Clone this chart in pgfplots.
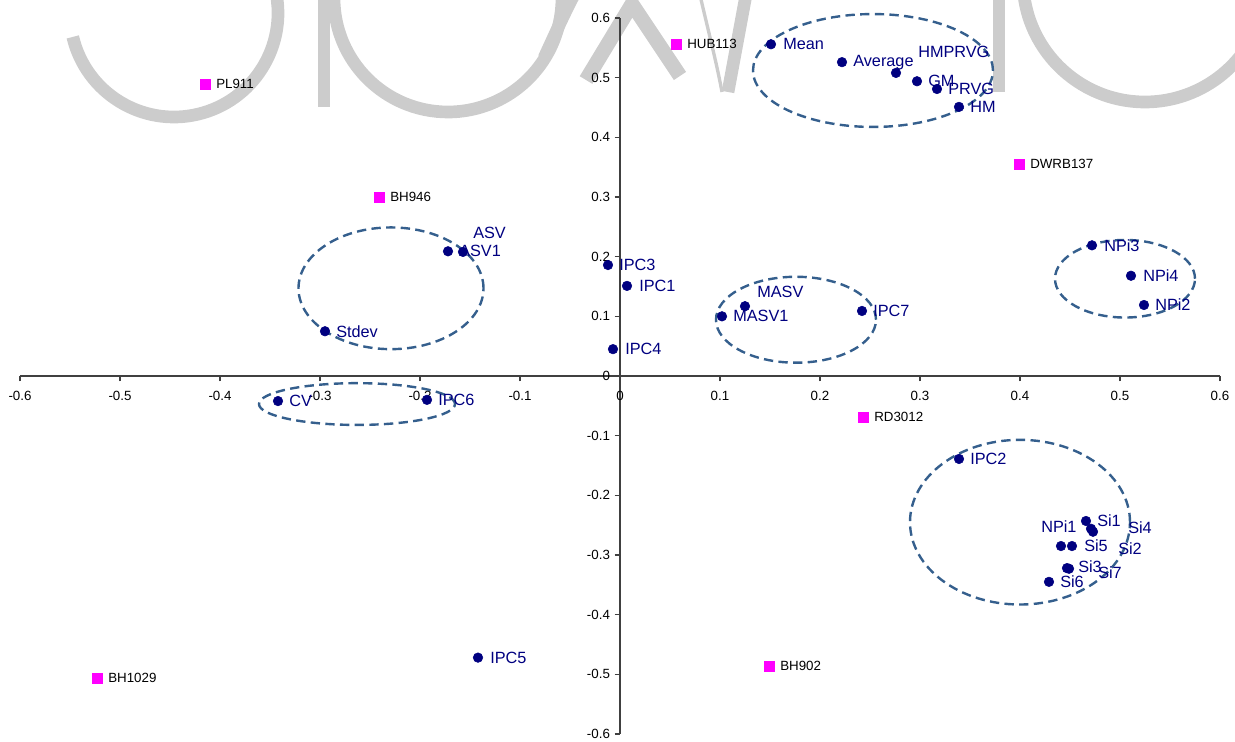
\documentclass[border=0pt]{standalone}
\usepackage{pgfplots}
\pgfplotsset{compat=1.18}
\usepackage{pgfplotstable}
\usepackage{fontspec}
\setmainfont{Liberation Sans}
\definecolor{navy}{HTML}{000080}
\definecolor{mag}{HTML}{FF00FF}
\definecolor{ellc}{HTML}{355F8D}
\definecolor{wm}{HTML}{CCCCCC}

\pgfplotstableread{
x y dx dy lab
0.151 0.556 12 0 Mean
0.222 0.526 11 0 Average
0.276 0.508 22 21 HMPRVG
0.297 0.494 11 0 GM
0.317 0.481 11 0 PRVG
0.339 0.451 11 0 HM
-0.172 0.209 11 0 ASV1
-0.157 0.208 10 19 ASV
-0.295 0.075 11 0 Stdev
-0.342 -0.042 11 0 CV
-0.193 -0.040 11 0 IPC6
-0.012 0.186 11 0 IPC3
0.007 0.151 12 0 IPC1
-0.007 0.045 12 0 IPC4
0.125 0.117 12 14 MASV
0.102 0.100 11 0 MASV1
0.242 0.109 11 0 IPC7
0.472 0.219 12 0 NPi3
0.511 0.168 12 0 NPi4
0.524 0.119 11 0 NPi2
0.339 -0.139 11 0 IPC2
0.466 -0.243 11 0 Si1
0.471 -0.256 37 1 Si4
0.473 -0.261 25 -17 Si2
0.441 -0.285 -20 19 NPi1
0.452 -0.285 12 0 Si5
0.447 -0.322 11 1 Si3
0.449 -0.323 29 -4 Si7
0.429 -0.345 11 0 Si6
-0.142 -0.472 12 0 IPC5
}\bluedata

\pgfplotstableread{
x y dx dy lab
-0.415 0.489 11 0 PL911
0.056 0.556 11 0 HUB113
-0.241 0.300 11 0 BH946
0.399 0.355 11 0 DWRB137
0.243 -0.069 11 0 RD3012
0.149 -0.486 11 0 BH902
-0.523 -0.506 11 0 BH1029
}\magdata

\begin{document}
\begin{tikzpicture}
\useasboundingbox (-465pt,-274.5pt) rectangle (461.25pt,282pt);
% background watermark (pixel coordinates)
\begin{scope}[x=0.75pt,y=-0.75pt,shift={(-465pt,282pt)}]
\clip (0,0) rectangle (1235,742);
\begin{scope}[draw=wm,line width=9.5pt,line cap=butt]
\draw ([shift={(174,13)}]166.7:104) arc[start angle=166.7,end angle=-12,radius=104];
\draw (324,-5) -- (324,107);
\draw ([shift={(448,-2)}]180:114) arc[start angle=180,end angle=-5,radius=114];
\draw (544,58) .. controls (556,32) and (564,14) .. (574,-5);
\draw[line width=11pt,line join=miter] (586,80) -- (632,4) -- (680,76);
\draw[line width=2.5pt] (700,-5) .. controls (708,30) and (716,60) .. (722,92);
\draw (746,-5) -- (728,92);
\draw (999,-5) -- (999,92);
\draw ([shift={(1145,-20)}]180:122) arc[start angle=180,end angle=-5,radius=122];
\end{scope}
\end{scope}
\begin{axis}[
  at={(0,0)}, anchor=origin,
  scale only axis, width=900pt, height=537pt,
  xmin=-0.6, xmax=0.6, ymin=-0.6, ymax=0.6,
  axis lines=middle,
  axis line style={-, black!75, line width=0.8pt},
  clip=false,
  hide obscured x ticks=false, hide obscured y ticks=false,
  tick align=outside,
  major tick length=4pt,
  tick style={black!75, line width=0.8pt},
  xtick={-0.6,-0.5,-0.4,-0.3,-0.2,-0.1,0,0.1,0.2,0.3,0.4,0.5,0.6},
  xticklabels={-0.6,-0.5,-0.4,-0.3,-0.2,-0.1,0,0.1,0.2,0.3,0.4,0.5,0.6},
  ytick={-0.6,-0.5,-0.4,-0.3,-0.2,-0.1,0,0.1,0.2,0.3,0.4,0.5,0.6},
  yticklabels={-0.6,-0.5,-0.4,-0.3,-0.2,-0.1,0,0.1,0.2,0.3,0.4,0.5,0.6},
  ticklabel style={font=\fontsize{10}{12}\selectfont, text=black},
  xticklabel style={yshift=-4pt},
  yticklabel style={xshift=0pt},
]
% ellipses
\draw[ellc, line width=1.8pt, dash pattern=on 7pt off 4pt] (axis cs:0.253,0.512) ellipse [x radius=0.120, y radius=0.0946];
\draw[ellc, line width=1.8pt, dash pattern=on 7pt off 4pt] (axis cs:-0.229,0.147) ellipse [x radius=0.0925, y radius=0.102];
\draw[ellc, line width=1.8pt, dash pattern=on 7pt off 4pt] (axis cs:-0.263,-0.047) ellipse [x radius=0.098, y radius=0.035];
\draw[ellc, line width=1.8pt, dash pattern=on 7pt off 4pt] (axis cs:0.176,0.0943) ellipse [x radius=0.080, y radius=0.072];
\draw[ellc, line width=1.8pt, dash pattern=on 7pt off 4pt] (axis cs:0.505,0.163) ellipse [x radius=0.070, y radius=0.065];
\draw[ellc, line width=1.8pt, dash pattern=on 7pt off 4pt] (axis cs:0.400,-0.245) ellipse [x radius=0.110, y radius=0.138];
% labels
\addplot[draw=none, mark=none, nodes near coords, point meta=explicit symbolic,
  visualization depends on={\thisrow{dx} \as \ldx},
  visualization depends on={\thisrow{dy} \as \ldy},
  every node near coord/.style={anchor=west, inner sep=0pt, xshift=\ldx*0.75pt, yshift=\ldy*0.75pt,
    font=\fontsize{12.2}{14}\selectfont, text=navy}]
  table[x=x,y=y,meta=lab] {\bluedata};
\addplot[draw=none, mark=none, nodes near coords, point meta=explicit symbolic,
  visualization depends on={\thisrow{dx} \as \ldx},
  visualization depends on={\thisrow{dy} \as \ldy},
  every node near coord/.style={anchor=west, inner sep=0pt, xshift=\ldx*0.75pt, yshift=\ldy*0.75pt,
    font=\fontsize{10}{12}\selectfont, text=black}]
  table[x=x,y=y,meta=lab] {\magdata};
% markers
\addplot[only marks, mark=*, mark size=3.6pt, navy, mark options={fill=navy, draw=navy}]
  table[x=x,y=y] {\bluedata};
\addplot[only marks, mark=square*, mark size=3.7pt, mag, mark options={fill=mag, draw=mag}]
  table[x=x,y=y] {\magdata};
\end{axis}
\end{tikzpicture}
\end{document}
